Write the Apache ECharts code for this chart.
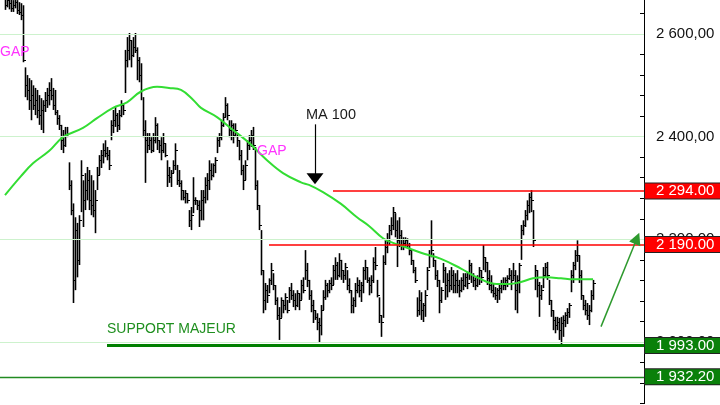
<!DOCTYPE html>
<html><head><meta charset="utf-8">
<script src="https://cdn.jsdelivr.net/npm/echarts@6/dist/echarts.min.js"></script>
<style>html,body{margin:0;padding:0;background:#fff}#c{width:720px;height:405px}</style>
</head><body><div id="c"></div>
<script>
// Daily bars (index = trading day)
const highs = [
2676,2682,2672,2678,2666,2674,2666,2662,2660,2656,
2535,2520,2514,2510,2500,2495,2491,2481,2475,2471,
2487,2495,2506,2514,2495,2491,2452,2442,2423,2413,
2419,2419,2350,2315,2270,2243,2232,2247,2354,2315,
2329,2341,2335,2325,2315,2296,2341,2364,2374,2387,
2393,2380,2374,2432,2452,2458,2446,2452,2471,2465,
2569,2594,2602,2588,2594,2602,2574,2555,2543,2477,
2432,2407,2407,2399,2407,2438,2426,2393,2399,2407,
2387,2354,2341,2335,2354,2387,2345,2335,2315,2296,
2296,2290,2257,2263,2321,2282,2276,2276,2296,2296,
2321,2329,2354,2348,2348,2360,2399,2407,2432,2446,
2477,2465,2432,2432,2426,2426,2407,2393,2374,2345,
2354,2393,2403,2413,2419,2380,2315,2267,2218,2140,
2115,2111,2124,2154,2134,2111,2087,2068,2087,2082,
2095,2082,2107,2115,2101,2095,2101,2095,2121,2126,
2179,2154,2121,2101,2082,2062,2056,2047,2072,2101,
2121,2115,2121,2126,2150,2165,2156,2173,2160,2140,
2154,2140,2124,2101,2087,2115,2126,2121,2117,2146,
2160,2146,2126,2130,2165,2185,2121,2087,2052,2169,
2198,2212,2228,2243,2263,2251,2237,2243,2218,2204,
2204,2202,2193,2179,2160,2146,2087,2101,2097,2076,
2101,2146,2179,2237,2173,2160,2140,2121,2107,2154,
2146,2134,2140,2146,2140,2134,2140,2121,2126,2134,
2134,2136,2160,2154,2134,2126,2130,2146,2140,2189,
2165,2156,2140,2130,2115,2107,2105,2111,2121,2126,
2126,2130,2144,2140,2154,2140,2130,2154,2228,2237,
2257,2276,2290,2296,2257,2150,2140,2117,2111,2146,
2154,2156,2121,2082,2062,2049,2049,2047,2049,2052,
2058,2066,2076,2140,2156,2179,2198,2169,2140,2091,
2082,2076,2072,2101,2121
];
const lows = [
2647,2652,2648,2643,2643,2650,2639,2637,2627,2545,
2477,2471,2452,2432,2452,2442,2436,2423,2413,2407,
2448,2456,2461,2471,2452,2442,2423,2413,2374,2368,
2380,2399,2296,2247,2076,2101,2126,2150,2253,2224,
2257,2276,2257,2247,2243,2212,2296,2325,2339,2348,
2360,2354,2335,2393,2407,2419,2409,2413,2438,2442,
2485,2535,2549,2535,2555,2563,2510,2506,2471,2399,
2310,2368,2374,2368,2370,2387,2374,2368,2354,2368,
2360,2302,2310,2302,2329,2335,2306,2302,2276,2276,
2270,2270,2224,2218,2251,2267,2257,2224,2237,2237,
2270,2276,2296,2315,2321,2329,2368,2380,2393,2419,
2438,2432,2399,2393,2387,2399,2380,2354,2325,2296,
2315,2354,2374,2380,2374,2296,2257,2218,2130,2056,
2062,2076,2095,2111,2101,2072,2043,2004,2047,2056,
2062,2056,2076,2082,2068,2062,2068,2062,2082,2095,
2121,2107,2082,2058,2037,2043,2023,1998,2013,2062,
2082,2087,2095,2101,2111,2121,2121,2126,2121,2115,
2121,2101,2095,2056,2056,2068,2095,2087,2078,2095,
2121,2115,2091,2095,2115,2140,2087,2037,2010,2047,
2150,2173,2189,2208,2218,2204,2146,2185,2179,2179,
2185,2185,2169,2150,2134,2115,2049,2052,2043,2039,
2049,2101,2144,2165,2146,2121,2107,2056,2076,2115,
2082,2087,2097,2101,2095,2095,2095,2087,2097,2101,
2107,2103,2121,2115,2107,2101,2107,2111,2115,2140,
2136,2111,2101,2095,2087,2082,2076,2082,2095,2101,
2101,2107,2121,2101,2121,2062,2056,2095,2160,2208,
2224,2237,2251,2253,2185,2101,2087,2049,2082,2105,
2126,2121,2072,2049,2023,2017,2023,2004,1994,2010,
2029,2035,2047,2097,2115,2140,2156,2115,2082,2062,
2052,2043,2033,2058,2082
];
const closes = [
2656,2666,2660,2650,2656,2662,2647,2643,2637,2549,
2500,2491,2471,2481,2461,2471,2452,2442,2452,2461,
2471,2481,2491,2481,2461,2448,2436,2423,2393,2384,
2403,2407,2306,2257,2121,2218,2160,2237,2325,2276,
2296,2315,2276,2267,2257,2276,2325,2354,2364,2374,
2368,2364,2345,2423,2432,2442,2423,2442,2461,2452,
2549,2569,2588,2559,2574,2569,2549,2520,2491,2413,
2393,2384,2393,2374,2393,2423,2393,2384,2374,2387,
2364,2325,2321,2329,2345,2374,2315,2310,2296,2282,
2290,2276,2237,2247,2276,2276,2267,2257,2276,2282,
2306,2315,2335,2325,2345,2354,2393,2399,2423,2438,
2461,2442,2413,2423,2403,2413,2393,2364,2335,2315,
2345,2384,2393,2403,2384,2306,2267,2228,2140,2082,
2101,2091,2121,2140,2111,2082,2052,2047,2082,2072,
2087,2062,2101,2091,2082,2072,2095,2082,2111,2101,
2140,2121,2091,2072,2062,2049,2039,2033,2062,2087,
2111,2101,2115,2111,2140,2150,2130,2160,2140,2130,
2146,2111,2101,2072,2082,2101,2111,2101,2111,2140,
2146,2121,2111,2121,2156,2150,2091,2052,2039,2156,
2185,2198,2218,2228,2253,2218,2198,2208,2189,2193,
2198,2189,2179,2160,2140,2121,2062,2082,2062,2072,
2091,2140,2169,2179,2160,2130,2121,2082,2101,2140,
2111,2121,2111,2130,2111,2121,2111,2101,2121,2111,
2126,2115,2150,2130,2121,2111,2124,2140,2126,2165,
2156,2124,2111,2101,2095,2091,2101,2105,2115,2111,
2121,2124,2130,2121,2130,2101,2121,2150,2218,2228,
2247,2267,2282,2276,2198,2140,2111,2091,2101,2130,
2146,2130,2082,2062,2043,2033,2039,2023,2037,2043,
2052,2058,2072,2130,2150,2169,2169,2130,2091,2072,
2062,2052,2062,2091,2115
];
// Moving average 100 (read at selected days)
const maIndex  = [0,8,14,22,29,39,46,54,61,68,76,82,88,94,98,106,114,122,131,139,148,152,159,168,176,182,189,194,198,208,218,228,236,246,252,258,264,271,278,284,294];
const maValues = [2286,2323,2348,2372,2399,2417,2436,2456,2467,2488,2497,2495,2491,2472,2456,2438,2413,2388,2354,2329,2311,2306,2292,2269,2243,2226,2202,2193,2188,2174,2162,2143,2126,2113,2113,2117,2124,2126,2124,2122,2122];
// Axis ticks
const yTickValues = [2000, 2200, 2400, 2600];
const yTickLabels = ['2 000,00', '2 200,00', '2 400,00', '2 600,00'];
// Horizontal levels
const levelValues = [2294, 2190, 1993, 1932.2];
const levelLabels = ['2 294.00', '2 190.00', '1 993.00', '1 932.20'];
const levelStart  = [164, 132, 51, -2.5];
// Annotation arrows (day index, price)
const maArrow    = [[155, 2424], [155, 2318]];
const trendArrow = [[298, 2030], [316, 2202]];

const X_MIN = -2.5, X_MAX = 319.5;
const FONT = '"Liberation Sans", Arial, sans-serif';
const ohlc = closes.map((c, i) => [i, highs[i], lows[i], c]);

const levelColors = ['#ff0000', '#ff0000', '#008000', '#228b22'];
const levelWidths = [1.5, 1.5, 3, 1.4];
const boxColors = ['#ff0000', '#ff0000', '#0a800a', '#0a800a'];

const levelLines = levelValues.map((v, k) => [
  { coord: [levelStart[k], v],
    lineStyle: { color: levelColors[k], width: levelWidths[k], type: 'solid' },
    label: { show: true, position: 'end', distance: 1, formatter: levelLabels[k],
      color: '#fff', fontSize: 15, fontFamily: FONT, lineHeight: 14,
      backgroundColor: boxColors[k], borderColor: '#222', borderWidth: 1,
      padding: [1, 14, 0, 11] } },
  { coord: [X_MAX, v] }
]);
levelLines.push([
  { coord: maArrow[0], lineStyle: { color: '#000', width: 1.2, type: 'solid' }, label: { show: false } },
  { coord: maArrow[1], symbol: 'triangle', symbolSize: [17, 11] }
]);
levelLines.push([
  { coord: trendArrow[0], lineStyle: { color: '#2e9a2e', width: 1.5, type: 'solid' }, label: { show: false } },
  { coord: trendArrow[1], symbol: 'triangle', symbolSize: [12, 12] }
]);

const chart = echarts.init(document.getElementById('c'), null, { renderer: 'canvas' });
chart.setOption({
  animation: false,
  backgroundColor: '#ffffff',
  grid: { left: 0, right: 76, top: -7.07, bottom: 1.4, outerBoundsMode: 'none' },
  xAxis: { type: 'value', min: X_MIN, max: X_MAX, show: false },
  yAxis: {
    type: 'value', position: 'right', min: 1880, max: 2680, interval: 40, scale: true,
    axisLine: { show: true, onZero: false, lineStyle: { color: '#000', width: 1 } },
    axisTick: { show: true, inside: true, length: 4, lineStyle: { color: '#000' } },
    axisLabel: { margin: 12, color: '#111', fontSize: 15, fontFamily: FONT,
      formatter: v => { const k = yTickValues.indexOf(v); return k < 0 ? '' : yTickLabels[k]; } },
    splitLine: { show: false }
  },
  series: [
    { type: 'line', data: [], z: 1, silent: true,
      markLine: { silent: true, symbol: ['none', 'none'], label: { show: false },
        lineStyle: { color: '#cdf2cd', type: 'solid', width: 1 },
        data: yTickValues.map(v => ({ yAxis: v })) } },
    { type: 'custom', z: 2, data: ohlc, encode: { x: 0, y: [1, 2, 3] }, silent: true,
      renderItem: (params, api) => {
        const i = api.value(0);
        const pt = api.coord([i, api.value(1)]);
        const pb = api.coord([i, api.value(2)]);
        const pc = api.coord([i, api.value(3)]);
        const x = Math.round(pt[0]) + 0.5;
        const yc = Math.round(pc[1]) + 0.5;
        return { type: 'group', children: [
          { type: 'line', shape: { x1: x, y1: pt[1], x2: x, y2: pb[1] }, style: { stroke: '#000', lineWidth: 1.6 } },
          { type: 'line', shape: { x1: x, y1: yc, x2: x + 2.5, y2: yc }, style: { stroke: '#000', lineWidth: 1 } }
        ] };
      } },
    { type: 'line', z: 3, data: maIndex.map((x, k) => [x, maValues[k]]), smooth: 0.4,
      symbol: 'none', silent: true, lineStyle: { color: '#33dd33', width: 2 } },
    { type: 'line', z: 4, data: [], silent: true,
      markLine: { silent: true, symbol: ['none', 'none'], symbolSize: 10, data: levelLines } }
  ],
  graphic: [
    { type: 'text', x: 0, y: 52.5, z: 10, style: { text: 'GAP', fill: '#ff33ff', font: '14px ' + FONT, verticalAlign: 'middle' } },
    { type: 'text', x: 257, y: 151, z: 10, style: { text: 'GAP', fill: '#ff33ff', font: '14px ' + FONT, verticalAlign: 'middle' } },
    { type: 'text', x: 306, y: 114.5, z: 10, style: { text: 'MA 100', fill: '#1a1a1a', font: '14.5px ' + FONT, verticalAlign: 'middle' } },
    { type: 'text', x: 107, y: 329, z: 10, style: { text: 'SUPPORT MAJEUR', fill: '#1f8f1f', font: '14px ' + FONT, verticalAlign: 'middle' } }
  ]
});
</script></body></html>
